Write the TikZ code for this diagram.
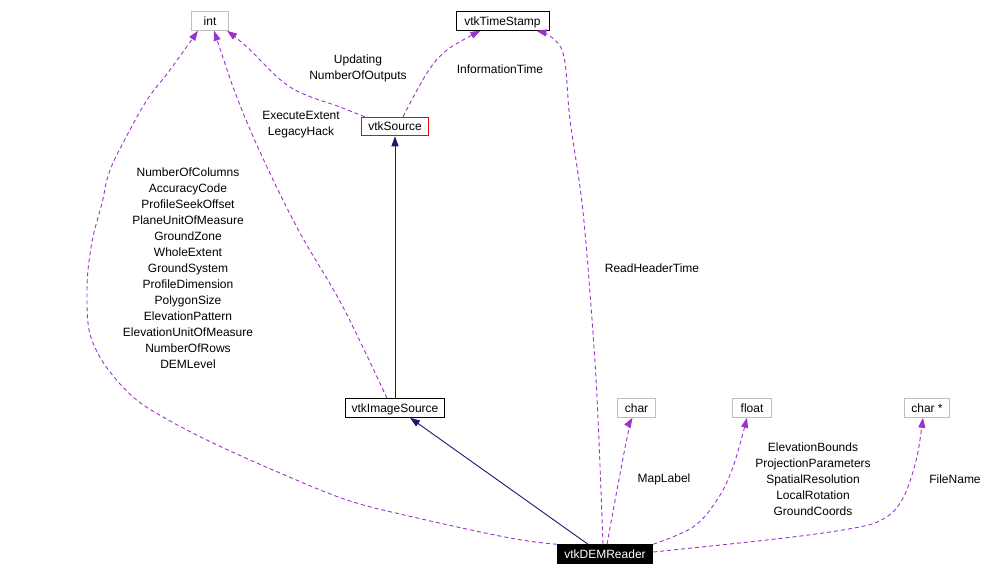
\documentclass[tikz,border=0pt]{standalone}
\usepackage{fontspec}
\setmainfont{Liberation Sans}
\usetikzlibrary{arrows.meta}
\definecolor{dep}{HTML}{9A32CD}
\definecolor{inh}{HTML}{191970}
\definecolor{gbox}{HTML}{BFBFBF}
\begin{document}
\begin{tikzpicture}[x=1pt,y=-1pt,
  every node/.style={font=\fontsize{12}{16}\selectfont, inner sep=0pt},
  cls/.style={draw, line width=1pt, minimum height=18.5pt, text depth=0pt},
  grey/.style={cls, draw=gbox},
  blk/.style={cls, draw=black},
  redb/.style={cls, draw=red},
  cur/.style={cls, draw=black, fill=black, text=white},
  depline/.style={draw=dep, line width=0.9pt, dash pattern=on 4pt off 3pt, -{Triangle[length=10pt,width=7pt,fill=dep]}},
  inhline/.style={draw=inh, line width=0.9pt, -{Triangle[length=10pt,width=7pt,fill=inh]}},
  lbl/.style={align=center}
]
\useasboundingbox (0,0) rectangle (994,576);

% nodes
\node[grey, minimum width=37pt] (int) at (210,21) {int};
\node[blk, minimum width=93pt] (ts) at (502.5,21) {vtkTimeStamp};
\node[redb, minimum width=67.5pt] (src) at (395,126.5) {vtkSource};
\node[blk, minimum width=99pt] (img) at (395,408) {vtkImageSource};
\node[cur, minimum width=95.5pt] (dem) at (605,554) {vtkDEMReader};
\node[grey, minimum width=38pt] (chr) at (636.5,408) {char};
\node[grey, minimum width=38.5pt] (flt) at (752,408) {float};
\node[grey, minimum width=45pt] (chs) at (927,408) {char *};

% inheritance
\draw[inhline] (img.north) -- (src.south);
\draw[inhline] ([xshift=-17pt]dem.north) -- ([xshift=15pt]img.south);

% dependencies
\draw[depline] plot[smooth, tension=0.6] coordinates {([xshift=4pt]src.north west) (340,107) (290,87) (247,47) ([xshift=-2pt]int.south east)};
\draw[depline] plot[smooth, tension=0.6] coordinates {([xshift=8pt]src.north) (427,73) (447,50) ([xshift=-22pt]ts.south)};
\draw[depline] plot[smooth, tension=0.6] coordinates {([xshift=-8pt]img.north) (343,307) (300,233) (267,167) (243,113) (233,87) ([xshift=4pt]int.south)};
\draw[depline] plot[smooth, tension=0.6] coordinates {(dem.north west) (510,538) (413,517) (347,500) (280,473) (213,443) (163,417) (133,397) (107,368) (93,343) (88,323) (87,297) (88,270) (93,237) (102,203) (109,173) (123,143) (147,100) (170,70) ([xshift=-12pt]int.south)};
\draw[depline] plot[smooth, tension=0.6] coordinates {([xshift=-2pt]dem.north) (597,397) (590,293) (582,203) (570,120) (562,50) ([xshift=34pt]ts.south)};
\draw[depline] plot[smooth, tension=0.6] coordinates {([xshift=2pt]dem.north) (617,490) (628,433) ([xshift=-4pt]chr.south)};
\draw[depline] plot[smooth, tension=0.6] coordinates {(dem.north east) (693,527) (717,500) (733,467) ([xshift=-5pt]flt.south)};
\draw[depline] plot[smooth, tension=0.5] coordinates {([yshift=2pt]dem.east) (767,540) (830,532) (872,524) (893,512) (906,492) (917,457) ([xshift=-4pt]chs.south)};

% labels
\node[lbl] (l1) at (358,68) {Updating\\NumberOfOutputs};
\node[lbl] (l2) at (500,69) {InformationTime};
\node[lbl] (l3) at (301,125) {ExecuteExtent\\LegacyHack};
\node[lbl] (l4) at (188,268) {NumberOfColumns\\AccuracyCode\\ProfileSeekOffset\\PlaneUnitOfMeasure\\GroundZone\\WholeExtent\\GroundSystem\\ProfileDimension\\PolygonSize\\ElevationPattern\\ElevationUnitOfMeasure\\NumberOfRows\\DEMLevel};
\node[lbl] (l5) at (652,268) {ReadHeaderTime};
\node[lbl] (l6) at (664,479) {MapLabel};
\node[lbl] (l7) at (813,479) {ElevationBounds\\ProjectionParameters\\SpatialResolution\\LocalRotation\\GroundCoords};
\node[lbl] (l8) at (955,479) {FileName};
\end{tikzpicture}
\end{document}
